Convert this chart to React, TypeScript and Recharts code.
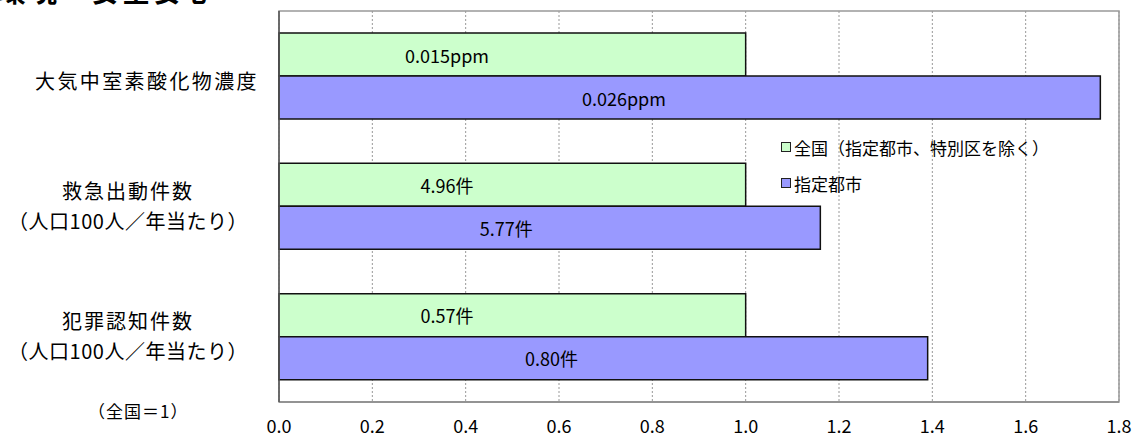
import React from 'react';
import { BarChart, Bar, XAxis, YAxis, CartesianGrid, LabelList, ReferenceArea } from 'recharts';

const categories = ['大気中室素酸化物濃度', '救急出動件数', '犯罪認知件数'];
const subLabels = ['', '（人口100人／年当たり）', '（人口100人／年当たり）'];
const nationalIndex = [1, 1, 1];
const cityIndex = [1.76, 1.16, 1.39];
const nationalLabels = ['0.015ppm', '4.96件', '0.57件'];
const cityLabels = ['0.026ppm', '5.77件', '0.80件'];
const xTicks = [0, 0.2, 0.4, 0.6, 0.8, 1.0, 1.2, 1.4, 1.6, 1.8];
const seriesNames = ['全国（指定都市、特別区を除く）', '指定都市'];

const FONT = '"Noto Sans CJK JP", "Noto Sans", sans-serif';
const GREEN = '#ccffcc';
const BLUE = '#9999ff';

const data = categories.map((name, i) => ({
  name,
  national: nationalIndex[i],
  city: cityIndex[i],
  nationalLabel: nationalLabels[i],
  cityLabel: cityLabels[i],
}));

const CategoryTick = (props: any) => {
  const { y, payload, index } = props;
  const sub = subLabels[index];
  if (!sub) {
    return (
      <text x={147} y={y + 4} textAnchor="middle" dominantBaseline="central" fontSize={20} fill="#000" fontFamily={FONT} letterSpacing={2.4}>
        {payload.value}
      </text>
    );
  }
  return (
    <g>
      <text x={128} y={y - 16} textAnchor="middle" dominantBaseline="central" fontSize={20} fill="#000" fontFamily={FONT} letterSpacing={2}>
        {payload.value}
      </text>
      <text x={128} y={y + 14} textAnchor="middle" dominantBaseline="central" fontSize={20} fill="#000" fontFamily={FONT} letterSpacing={0.5}>
        {sub}
      </text>
    </g>
  );
};

const makeLabel = (frac: number) => (props: any) => {
  const { x, y, width, height, value } = props;
  return (
    <text x={x + width * frac} y={y + height / 2} textAnchor="middle" dominantBaseline="central" fontSize={18} fill="#000" fontFamily={FONT}>
      {value}
    </text>
  );
};

const LegendBox = () => (
  <div style={{ position: 'absolute', left: 781, top: 129, fontFamily: FONT, fontSize: 17, color: '#000' }}>
    {[GREEN, BLUE].map((c, i) => (
      <div key={i} style={{ display: 'flex', alignItems: 'center', height: 36 }}>
        <span style={{ width: 8, height: 8, background: c, border: '1px solid #222', marginRight: 3 }} />
        <span>{seriesNames[i]}</span>
      </div>
    ))}
  </div>
);

export default function App() {
  return (
    <div style={{ position: 'absolute', left: 0, top: 0, width: 1133, height: 439, background: '#fff', overflow: 'hidden' }}>
      <BarChart
        width={1133}
        height={439}
        data={data}
        layout="vertical"
        margin={{ top: 11, right: 14, bottom: 0, left: 0 }}
        barSize={43}
        barGap={0}
      >
        <CartesianGrid horizontal={false} stroke="#999" strokeDasharray="2 2" />
        <ReferenceArea x1={0} x2={1.8} fill="none" stroke="#999" strokeWidth={1.5} ifOverflow="visible" />
        <XAxis
          type="number"
          domain={[0, 1.8]}
          ticks={xTicks}
          tickFormatter={(v: number) => v.toFixed(1)}
          axisLine={{ stroke: '#888', strokeWidth: 1.5 }}
          tickLine={false}
          tickMargin={12}
          height={37}
          tick={{ fontSize: 18, fill: '#000', fontFamily: FONT }}
        />
        <YAxis
          type="category"
          dataKey="name"
          width={279}
          axisLine={{ stroke: '#555', strokeWidth: 1.5 }}
          tickLine={false}
          tick={<CategoryTick />}
        />
        <Bar dataKey="national" name={seriesNames[0]} fill={GREEN} stroke="#111" strokeWidth={1.5} isAnimationActive={false}>
          <LabelList dataKey="nationalLabel" content={makeLabel(0.36)} />
        </Bar>
        <Bar dataKey="city" name={seriesNames[1]} fill={BLUE} stroke="#111" strokeWidth={1.5} isAnimationActive={false}>
          <LabelList dataKey="cityLabel" content={makeLabel(0.42)} />
        </Bar>
      </BarChart>
      <LegendBox />
      <div style={{ position: 'absolute', left: -2, top: -30, fontFamily: FONT, fontWeight: 'bold', fontSize: 28, letterSpacing: 3, color: '#000', whiteSpace: 'nowrap' }}>
        環境・安全安心
      </div>
      <div style={{ position: 'absolute', left: 88, top: 398, fontFamily: FONT, fontSize: 17, letterSpacing: 1, color: '#000' }}>
        （全国＝1）
      </div>
    </div>
  );
}
